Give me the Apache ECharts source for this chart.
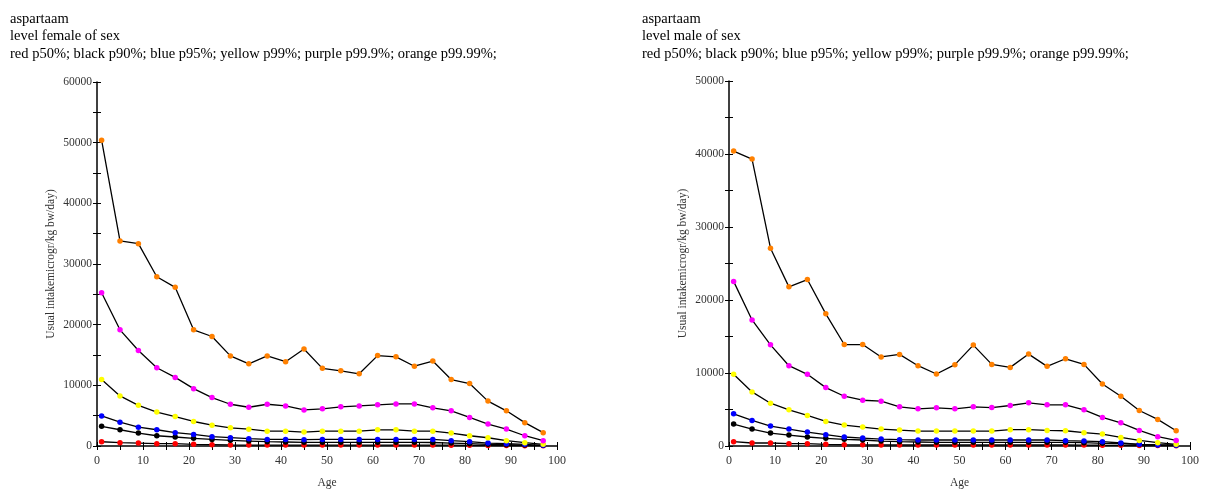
<!DOCTYPE html>
<html>
<head>
<meta charset="utf-8">
<script src="https://cdn.jsdelivr.net/npm/echarts@6/dist/echarts.min.js"></script>
<style>
  html, body { margin: 0; padding: 0; background: #fff; }
  #chart { width: 1205px; height: 491px; }
</style>
</head>
<body>
<div id="chart"></div>
<script>
// Age classes (midpoints)
const ages = [1, 5, 9, 13, 17, 21, 25, 29, 33, 37, 41, 45, 49, 53, 57, 61, 65, 69, 73, 77, 81, 85, 89, 93, 97];

// Percentiles of usual intake, female
const femaleP50   = [700, 550, 490, 380, 380, 270, 220, 180, 160, 150, 150, 150, 150, 150, 150, 150, 150, 150, 150, 130, 110, 90, 70, 60, 50];
const femaleP90   = [3250, 2680, 2130, 1690, 1480, 1260, 1090, 930, 820, 710, 660, 600, 600, 600, 600, 600, 600, 600, 580, 490, 380, 270, 220, 160, 110];
const femaleP95   = [4950, 3930, 3110, 2680, 2190, 1910, 1530, 1370, 1200, 1090, 1090, 1040, 1090, 1090, 1090, 1090, 1090, 1090, 1090, 870, 710, 490, 380, 270, 110];
const femaleP99   = [10950, 8250, 6700, 5600, 4860, 4040, 3440, 3000, 2780, 2450, 2450, 2290, 2450, 2450, 2450, 2670, 2670, 2450, 2450, 2130, 1690, 1360, 870, 540, 270];
const femaleP999  = [25250, 19150, 15740, 12900, 11310, 9450, 7980, 6880, 6390, 6880, 6610, 5950, 6120, 6450, 6610, 6780, 6940, 6940, 6290, 5790, 4700, 3610, 2790, 1690, 870];
const femaleP9999 = [50400, 33800, 33350, 27900, 26150, 19150, 18050, 14850, 13550, 14850, 13900, 16000, 12800, 12400, 11900, 14900, 14700, 13150, 14000, 10950, 10300, 7400, 5800, 3850, 2200];

// Percentiles of usual intake, male
const maleP50   = [590, 410, 410, 320, 320, 230, 180, 160, 150, 140, 140, 140, 140, 140, 140, 140, 140, 140, 140, 120, 100, 90, 70, 60, 50];
const maleP90   = [3000, 2320, 1770, 1500, 1230, 1050, 910, 820, 680, 590, 550, 500, 500, 500, 500, 500, 500, 500, 500, 450, 360, 320, 230, 180, 140];
const maleP95   = [4410, 3500, 2730, 2320, 1910, 1550, 1230, 1090, 950, 860, 820, 820, 820, 820, 820, 820, 820, 820, 730, 680, 590, 410, 230, 140, 90];
const maleP99   = [9820, 7410, 5860, 4950, 4180, 3360, 2860, 2590, 2320, 2180, 2050, 2050, 2050, 2050, 2050, 2230, 2230, 2140, 2090, 1820, 1640, 1180, 770, 450, 230];
const maleP999  = [22550, 17270, 13860, 11000, 9820, 8000, 6820, 6270, 6140, 5360, 5090, 5230, 5090, 5360, 5270, 5550, 5910, 5640, 5640, 4950, 3910, 3180, 2140, 1270, 770];
const maleP9999 = [40400, 39300, 27100, 21800, 22800, 18100, 13900, 13900, 12200, 12550, 11000, 9860, 11140, 13820, 11180, 10770, 12590, 10910, 11950, 11180, 8500, 6820, 4860, 3640, 2090];

const xTicks = { min: 0, max: 100, interval: 10 };
const yTicksFemale = { min: 0, max: 60000, interval: 10000 };
const yTicksMale = { min: 0, max: 50000, interval: 10000 };

const markerColors = ['#ff0000', '#000000', '#0000ff', '#ffff00', '#ff00ff', '#ff8000'];
const femaleSets = [femaleP50, femaleP90, femaleP95, femaleP99, femaleP999, femaleP9999];
const maleSets = [maleP50, maleP90, maleP95, maleP99, maleP999, maleP9999];

const serif = '"Liberation Serif", "Times New Roman", serif';
const legendLine = 'red p50%; black p90%; blue p95%; yellow p99%; purple p99.9%; orange p99.99%;';

function pairs(vals) { return ages.map((a, i) => [a, vals[i]]); }
const plain = v => String(v);

function xAxes(gridIndex) {
  const base = {
    type: 'value', gridIndex, min: xTicks.min, max: xTicks.max, interval: xTicks.interval,
    splitLine: { show: false }
  };
  return [
    Object.assign({}, base, {
      name: 'Age', nameLocation: 'middle', nameGap: 31,
      nameTextStyle: { fontFamily: serif, fontSize: 11.5, color: '#333' },
      axisLine: { show: true, onZero: false, lineStyle: { color: '#000', width: 1.5 } },
      axisTick: { show: true, inside: false, length: 4, lineStyle: { color: '#000', width: 1 } },
      minorTick: { show: true, splitNumber: 2, length: 4, lineStyle: { color: '#000' } },
      axisLabel: { fontFamily: serif, fontSize: 12, color: '#333', margin: 9, formatter: plain }
    }),
    Object.assign({}, base, {
      position: 'bottom',
      axisLine: { show: false, onZero: false },
      axisTick: { show: true, inside: true, length: 4, lineStyle: { color: '#000', width: 1 } },
      minorTick: { show: true, splitNumber: 2, length: 4, lineStyle: { color: '#000' } },
      axisLabel: { show: false }
    })
  ];
}

function yAxes(gridIndex, ticks) {
  const base = {
    type: 'value', gridIndex, min: ticks.min, max: ticks.max, interval: ticks.interval,
    splitLine: { show: false }
  };
  return [
    Object.assign({}, base, {
      name: 'Usual intakemicrogr/kg bw/day)', nameLocation: 'middle', nameRotate: 90, nameGap: 40,
      nameTextStyle: { fontFamily: serif, fontSize: 11.5, color: '#333' },
      axisLine: { show: true, lineStyle: { color: '#000', width: 1.5 } },
      axisTick: { show: true, inside: false, length: 4, lineStyle: { color: '#000', width: 1 } },
      minorTick: { show: true, splitNumber: 2, length: 4, lineStyle: { color: '#000' } },
      axisLabel: { fontFamily: serif, fontSize: 11.5, color: '#333', margin: 5, formatter: plain }
    }),
    Object.assign({}, base, {
      position: 'left',
      axisLine: { show: false },
      axisTick: { show: true, inside: true, length: 4, lineStyle: { color: '#000', width: 1 } },
      minorTick: { show: true, splitNumber: 2, length: 4, lineStyle: { color: '#000' } },
      axisLabel: { show: false }
    })
  ];
}

function seriesFor(sets, axisOffset) {
  return sets.map((vals, k) => ({
    type: 'line',
    xAxisIndex: axisOffset,
    yAxisIndex: axisOffset,
    data: pairs(vals),
    symbol: 'circle',
    symbolSize: 5.5,
    itemStyle: { color: markerColors[k] },
    lineStyle: { color: '#000', width: 1.3 },
    z: 2 + k,
    animation: false
  }));
}

const headingStyle = { fontFamily: serif, fontSize: 14.5, fontWeight: 'normal', color: '#000', lineHeight: 17.5 };

const chart = echarts.init(document.getElementById('chart'), null, { renderer: 'canvas' });
chart.setOption({
  backgroundColor: '#fff',
  animation: false,
  title: [
    { text: 'aspartaam\nlevel female of sex\n' + legendLine, left: 10, top: 10, padding: 0, textStyle: headingStyle },
    { text: 'aspartaam\nlevel male of sex\n' + legendLine, left: 642, top: 10, padding: 0, textStyle: headingStyle }
  ],
  grid: [
    { left: 97, right: 648, top: 82, bottom: 45, containLabel: false, outerBoundsMode: 'none' },
    { left: 729, right: 15, top: 81, bottom: 45, containLabel: false, outerBoundsMode: 'none' }
  ],
  xAxis: [...xAxes(0), ...xAxes(1)],
  yAxis: [...yAxes(0, yTicksFemale), ...yAxes(1, yTicksMale)],
  series: [...seriesFor(femaleSets, 0), ...seriesFor(maleSets, 2)]
});
</script>
</body>
</html>
